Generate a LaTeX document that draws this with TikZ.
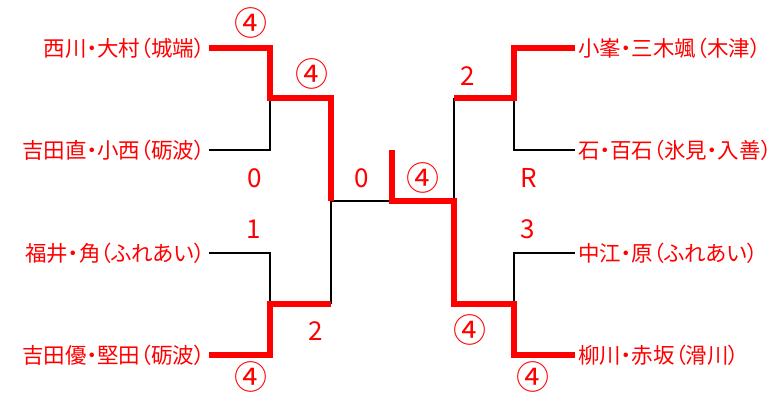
\documentclass[tikz,border=0pt]{standalone}
\usepackage{fontspec}
\setmainfont{Noto Sans CJK JP}
\newfontfamily\propjp[RawFeature=+palt]{Noto Sans CJK JP}
\usetikzlibrary{positioning}

\begin{document}
\begin{tikzpicture}[x=1pt, y=-1pt]
\tikzset{
  team/.style ={text=red, inner sep=0pt, font=\propjp\fontsize{21.5}{21.5}\selectfont},
  score/.style={text=red, inner sep=0pt, font=\fontsize{26}{26}\selectfont},
  wins/.style ={text=red, inner sep=0pt, font=\fontsize{33}{33}\selectfont},
  win/.style  ={draw=red, line width=6pt},
  lose/.style ={draw=black, line width=1.5pt}
}
\useasboundingbox (0,0) rectangle (782,392);
% players, left side
\node (t1)[team, anchor=east] at (205,48) {西川・大村（城端）};
\node (t2)[team, anchor=east] at (205,150) {吉田直・小西（砺波）};
\node (t3)[team, anchor=east] at (205,253) {福井・角（ふれあい）};
\node (t4)[team, anchor=east] at (205,355) {吉田優・堅田（砺波）};
% players, right side
\node (t5)[team, anchor=west] at (578,48) {小峯・三木颯（木津）};
\node (t6)[team, anchor=west] at (578,150) {石・百石（氷見・入善）};
\node (t7)[team, anchor=west] at (578,253) {中江・原（ふれあい）};
\node (t8)[team, anchor=west] at (578,355) {柳川・赤坂（滑川）};
% joints
\coordinate (q1) at (270,98);  \coordinate (q2) at (270,304);
\coordinate (q3) at (514,98);  \coordinate (q4) at (514,304);
\coordinate (s1) at (331,201); \coordinate (s2) at (454,201);
\coordinate (fc) at (392,201); \coordinate (fw) at (392,150);
\coordinate (e1) at (209,0);   \coordinate (e2) at (575,0);
% lost lines
\draw[lose](t2.east -| e1) -| (q1); \draw[lose](t3.east -| e1) -| (q2);
\draw[lose](t6.west -| e2) -| (q3); \draw[lose](t7.west -| e2) -| (q4);
\draw[lose](s1 |- q2) -- (s1) -- (fc); \draw[lose](s2 |- q3) -- (s2);
% winning lines
\draw[win](t1.east -| e1) -| (q1) -- (s1 |- q1) -- (s1);
\draw[win](t4.east -| e1) -| (q2) -- (s1 |- q2);
\draw[win](t5.west -| e2) -| (q3) -- (s2 |- q3);
\draw[win](t8.west -| e2) -| (q4) -- (s2 |- q4) -- (s2) -- (fc) -- (fw);
% scores
\node (r1)[wins] at (251,23) {④};
\node (r2)[wins] at (312,74) {④};
\node (r3)[score] at (255,178) {0};
\node (r4)[score] at (254,229) {1};
\node (r5)[score] at (316,331) {2};
\node (r6)[wins] at (251,377) {④};
\node (r7)[score] at (362,178) {0};
\node (r8)[wins] at (423,178) {④};
\node (r9)[score] at (468,76) {2};
\node (r10)[score] at (529,178) {R};
\node (r11)[score] at (528,229) {3};
\node (r12)[wins] at (470,330) {④};
\node (r13)[wins] at (533,377) {④};
\end{tikzpicture}
\end{document}
